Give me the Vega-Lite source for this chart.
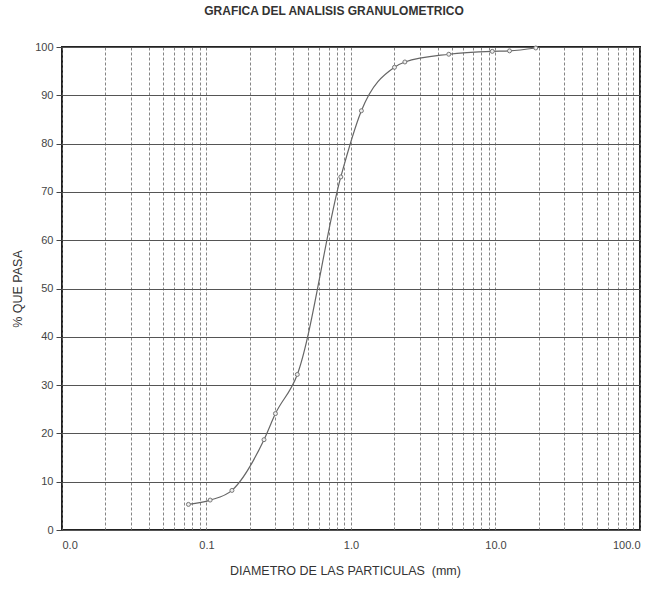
{
  "$schema": "https://vega.github.io/schema/vega-lite/v6.json",
  "autosize": {"type": "none"},
  "padding": {"left": 62, "top": 47, "right": 20, "bottom": 59},
  "width": 578,
  "height": 483,
  "background": "white",
  "title": {
    "text": "GRAFICA DEL ANALISIS GRANULOMETRICO",
    "font": "Liberation Sans",
    "fontSize": 12,
    "fontWeight": "bold",
    "color": "#333",
    "anchor": "middle",
    "offset": 23,
    "dx": -17
  },
  "config": {
    "view": {"stroke": "#222", "strokeWidth": 2},
    "axis": {"labelFont": "Liberation Sans", "titleFont": "Liberation Sans", "labelColor": "#444", "titleColor": "#333", "titleFontWeight": "normal"}
  },
  "data": {
    "values": [
      {"d": 0.075, "p": 5.3},
      {"d": 0.106, "p": 6.2},
      {"d": 0.15, "p": 8.2},
      {"d": 0.25, "p": 18.7},
      {"d": 0.3, "p": 24.1},
      {"d": 0.425, "p": 32.2},
      {"d": 0.85, "p": 73.1},
      {"d": 1.18, "p": 86.8},
      {"d": 2.0, "p": 95.8},
      {"d": 2.36, "p": 96.9},
      {"d": 4.75, "p": 98.5},
      {"d": 9.5, "p": 99.1},
      {"d": 12.5, "p": 99.2},
      {"d": 19.0, "p": 99.8}
    ]
  },
  "encoding": {
    "x": {
      "field": "d",
      "type": "quantitative",
      "scale": {"type": "log", "domain": [0.01, 100], "nice": false},
      "axis": {
        "title": "DIAMETRO DE LAS PARTICULAS\u00a0\u00a0(mm)",
        "titleFontSize": 12.5,
        "titlePadding": 14,
        "titleX": 283,
        "values": [0.01,0.02,0.03,0.04,0.05,0.06,0.07,0.08,0.09,0.1,0.2,0.3,0.4,0.5,0.6,0.7,0.8,0.9,1,2,3,4,5,6,7,8,9,10,20,30,40,50,60,70,80,90,100],
        "labelExpr": "indexof([0.01,0.1,1,10,100], datum.value) >= 0 ? format(datum.value, '.1f') : ''",
        "labelOverlap": false,
        "labelBound": false,
        "labelFontSize": 11,
        "labelPadding": 9,
        "ticks": false,
        "domain": false,
        "grid": true,
        "gridColor": "#666",
        "gridDash": [3, 2],
        "gridWidth": 0.8
      }
    },
    "y": {
      "field": "p",
      "type": "quantitative",
      "scale": {"domain": [0, 100], "nice": false},
      "axis": {
        "title": "% QUE PASA",
        "titleFontSize": 12.5,
        "titlePadding": 10,
        "values": [0,10,20,30,40,50,60,70,80,90,100],
        "labelFontSize": 11,
        "tickSize": 6,
        "tickColor": "#444",
        "labelPadding": 3,
        "domain": false,
        "grid": true,
        "gridColor": "#555",
        "gridWidth": 1
      }
    }
  },
  "layer": [
    {
      "mark": {"type": "line", "interpolate": "monotone", "color": "#666", "strokeWidth": 1.2}
    },
    {
      "mark": {"type": "point", "shape": "circle", "size": 16, "filled": true, "fill": "#eee", "stroke": "#777", "strokeWidth": 1, "opacity": 1}
    }
  ]
}
